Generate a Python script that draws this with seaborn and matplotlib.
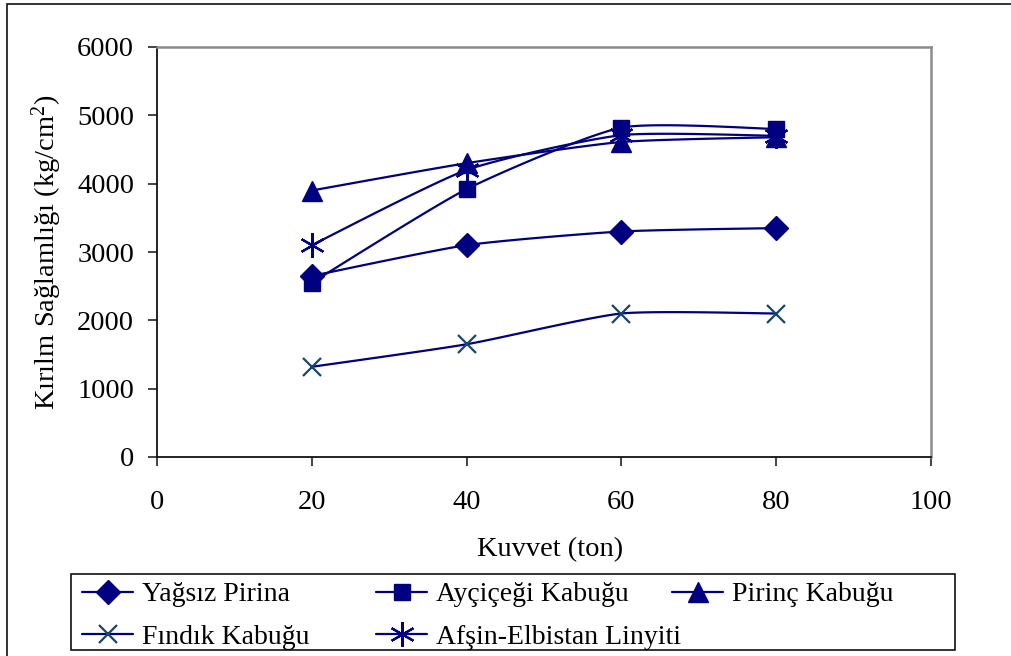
import numpy as np
import pandas as pd
import matplotlib
matplotlib.use("Agg")
import matplotlib.pyplot as plt
from matplotlib.lines import Line2D
from matplotlib.patches import Rectangle
import seaborn as sns

# Applied press force (ton)
force = [20, 40, 60, 80]

# Breaking strength (kg/cm2) for each briquette material
yagsiz_pirina = [2650, 3100, 3300, 3350]
aycicegi_kabugu = [2550, 3920, 4820, 4800]
pirinc_kabugu = [3900, 4300, 4610, 4680]
findik_kabugu = [1320, 1650, 2100, 2100]
afsin_elbistan = [3100, 4200, 4710, 4700]

series_names = ["Yağsız Pirina", "Ayçiçeği Kabuğu", "Pirinç Kabuğu",
                "Fındık Kabuğu", "Afşin-Elbistan Linyiti"]
series_values = [yagsiz_pirina, aycicegi_kabugu, pirinc_kabugu,
                 findik_kabugu, afsin_elbistan]

NAVY = "#000080"
TEAL = "#17466A"
styles = {
    "Yağsız Pirina": dict(marker="D", ms=12, mfc=NAVY, mec=NAVY, mew=1),
    "Ayçiçeği Kabuğu": dict(marker="s", ms=12, mfc=NAVY, mec=NAVY, mew=1),
    "Pirinç Kabuğu": dict(marker="^", ms=14, mfc=NAVY, mec=NAVY, mew=1),
    "Fındık Kabuğu": dict(marker="x", ms=13, mfc=TEAL, mec=TEAL, mew=1.6),
    "Afşin-Elbistan Linyiti": dict(marker=(6, 2, 0), ms=18, mfc=NAVY, mec=NAVY, mew=1.6),
}


def smooth_curve(x, y, n=40, k=0.1):
    """Bezier smoothing through the points (spreadsheet-style smoothed line)."""
    p = np.column_stack([x, y]).astype(float)
    ext = np.vstack([p[0], p, p[-1]])
    diff = ext[2:] - ext[:-2]
    pts = []
    t = np.linspace(0, 1, n)[:, None]
    for i in range(len(p) - 1):
        p0, p3 = p[i], p[i + 1]
        p1 = p0 + diff[i] * k
        p2 = p3 - diff[i + 1] * k
        seg = ((1 - t) ** 3) * p0 + 3 * ((1 - t) ** 2) * t * p1 \
            + 3 * (1 - t) * (t ** 2) * p2 + (t ** 3) * p3
        pts.append(seg if i == 0 else seg[1:])
    pts = np.vstack(pts)
    return pts[:, 0], pts[:, 1]


sns.set_theme(style="white")
plt.rcParams["font.family"] = ["Liberation Serif", "DejaVu Serif"]
plt.rcParams["mathtext.fontset"] = "custom"
plt.rcParams["mathtext.rm"] = "Liberation Serif"
plt.rcParams["mathtext.it"] = "Liberation Serif"

FS = 20.5
LFS = 20

fig = plt.figure(figsize=(10.12, 6.56), dpi=100)
ax = fig.add_axes([157 / 1012, 1 - 457 / 656, (931 - 157) / 1012, (457 - 47) / 656])

for name, vals in zip(series_names, series_values):
    sx, sy = smooth_curve(force, vals)
    curve = pd.DataFrame({"x": sx, "y": sy})
    sns.lineplot(data=curve, x="x", y="y", sort=False, estimator=None,
                 color=NAVY, lw=1.6, ax=ax, zorder=2)
    pts = pd.DataFrame({"x": force, "y": vals})
    sns.lineplot(data=pts, x="x", y="y", sort=False, estimator=None,
                 linestyle="", color=NAVY, ax=ax, zorder=3, **styles[name])

ax.set_xlim(0, 100)
ax.set_ylim(0, 6000)
ax.set_xticks([0, 20, 40, 60, 80, 100])
ax.set_yticks(range(0, 6001, 1000))

for side in ("left", "bottom"):
    ax.spines[side].set_color("#111111")
    ax.spines[side].set_linewidth(1.3)
for side in ("top", "right"):
    ax.spines[side].set_color("#8c8c8c")
    ax.spines[side].set_linewidth(1.8)

ax.tick_params(axis="both", direction="out", length=6.5, width=1.1,
               color="#111111", labelsize=FS, labelcolor="black")
ax.tick_params(axis="y", pad=10)
ax.tick_params(axis="x", pad=17)
ax.tick_params(left=True, bottom=True)

ax.set_xlabel("Kuvvet (ton)", fontsize=FS, color="black")
ax.set_ylabel("Kırılm Sağlamlığı (kg/cm$^{2}$)", fontsize=FS, color="black")
ax.xaxis.label.set_va("center")
ax.yaxis.label.set_va("center")
ax.xaxis.set_label_coords((550 - 157) / 774, (457 - 550) / 410)
ax.yaxis.set_label_coords((47 - 157) / 774, 0.5)


def handle(name):
    return Line2D([], [], color=NAVY, lw=1.6, **styles[name])


# Legend frame and outer chart border
fig.patches.append(Rectangle((71 / 1012, 1 - 650 / 656), (955 - 71) / 1012, (650 - 574) / 656,
                             transform=fig.transFigure, fill=False,
                             edgecolor="#111111", lw=1.2))
fig.patches.append(Rectangle((7 / 1012, -0.1), 1.2, 1.1 - 4 / 656,
                             transform=fig.transFigure, fill=False,
                             edgecolor="#111111", lw=1.2))

columns = [
    (82, ["Yağsız Pirina", "Fındık Kabuğu"]),
    (376, ["Ayçiçeği Kabuğu", "Afşin-Elbistan Linyiti"]),
    (672, ["Pirinç Kabuğu"]),
]
for xpix, names in columns:
    leg = fig.legend([handle(n) for n in names], names,
                     loc="upper left", bbox_to_anchor=(xpix / 1012, 1 - 582 / 656),
                     frameon=False, fontsize=LFS, handlelength=1.85,
                     handletextpad=0.3, borderpad=0, borderaxespad=0,
                     labelspacing=0.62)
    for txt in leg.get_texts():
        txt.set_color("black")

fig.savefig("out.png", dpi=100)
